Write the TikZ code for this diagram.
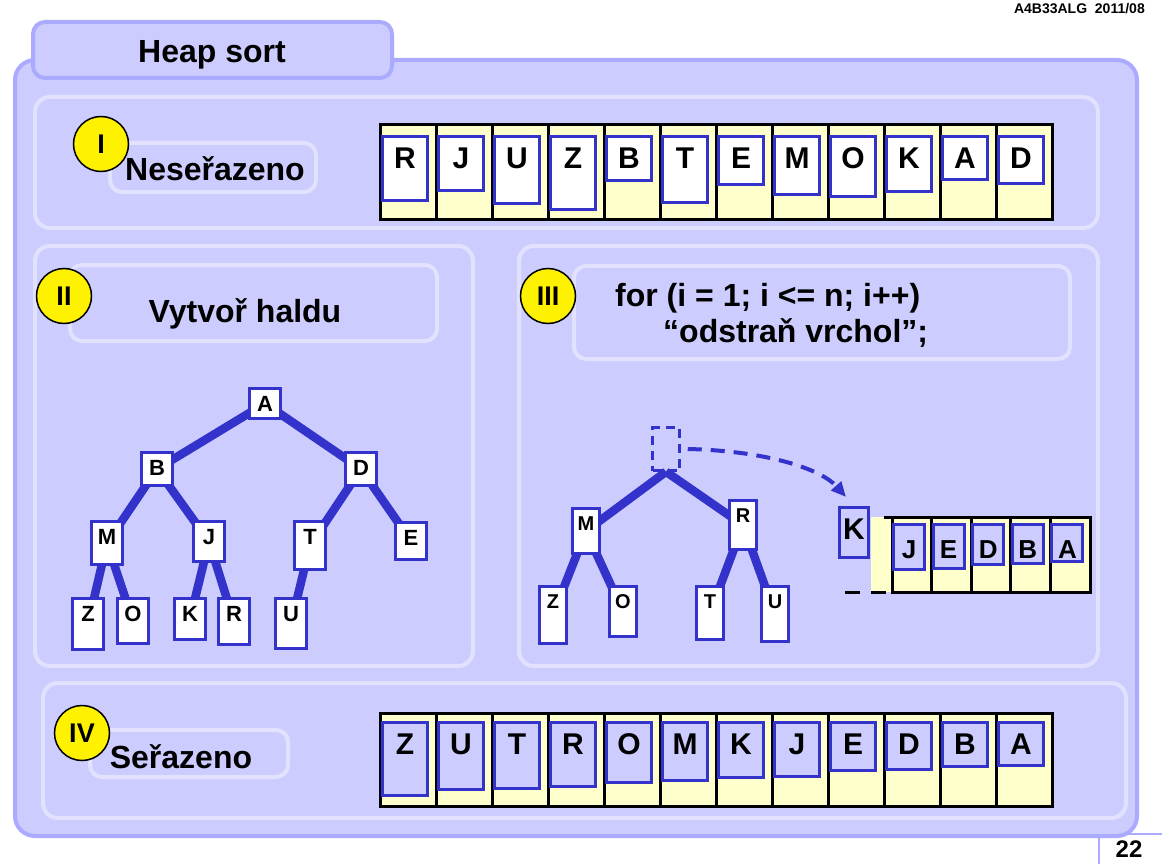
\documentclass[tikz,border=0pt]{standalone}
\usepackage{fontspec}
\setmainfont{Liberation Sans}
\usepackage{tikz}
\usetikzlibrary{arrows.meta}

\definecolor{lav}{RGB}{204,204,255}
\definecolor{panelline}{RGB}{170,170,255}
\definecolor{paleline}{RGB}{226,226,255}
\definecolor{boxblue}{RGB}{51,51,204}
\definecolor{cellyellow}{RGB}{255,255,204}

\pgfdeclarelayer{panels}
\pgfdeclarelayer{links}
\pgfsetlayers{panels,links,main}

\tikzset{
    panel/.style={draw=panelline, line width=4pt, fill=lav, rounded corners=20pt},
    subpanel/.style={draw=paleline, line width=4pt, fill=lav, rounded corners=15pt},
    caption/.style={draw=paleline, line width=4pt, fill=lav, rounded corners=12pt},
    numeral/.style={circle, draw=black, line width=1.5pt, fill=yellow, minimum size=55pt, inner sep=0pt, font=\fontsize{27}{30}\selectfont\bfseries},
    heading/.style={font=\fontsize{32}{36}\selectfont\bfseries, inner sep=0pt},
    cell/.style={draw=black, line width=3pt, fill=cellyellow},
    card/.style={draw=boxblue, line width=3pt, anchor=north, inner sep=2pt, minimum width=45pt, text height=29.5pt, font=\fontsize{30}{30}\selectfont\bfseries},
    smallcard/.style={card, fill=lav, minimum width=31pt, text height=31.6pt, font=\fontsize{26}{26}\selectfont\bfseries},
    treebox/.style={draw=boxblue, line width=3pt, fill=white, anchor=north, inner sep=2pt, minimum width=31pt, text height=21pt, font=\fontsize{22}{22}\selectfont\bfseries},
    link/.style={draw=boxblue, line width=8.5pt}
}

\begin{document}
\begin{tikzpicture}[x=1pt, y=-1pt, >=Stealth]
    \useasboundingbox (0,0) rectangle (1162,864);

    % frames
    \begin{pgfonlayer}{panels}
        \draw[draw=panelline, line width=2pt, fill=white] (1099,834) rectangle (1175,875);
        \draw[panel] (15,60) rectangle (1137,836);
        \draw[panel, rounded corners=12pt] (33,22) rectangle (392,78);
        \draw[subpanel] (35,97) rectangle (1098,228);
        \draw[subpanel] (35,246) rectangle (473,666);
        \draw[subpanel] (519,246) rectangle (1098,666);
        \draw[subpanel] (43,683) rectangle (1126,818);
    \end{pgfonlayer}

    \node[font=\fontsize{14}{16}\selectfont\bfseries, anchor=base east, inner sep=0pt] (course) at (1145,14) {A4B33ALG\ \ 2011/08};
    \node[font=\fontsize{24}{28}\selectfont\bfseries, anchor=base, inner sep=0pt] (pageno) at (1129,857) {22};
    \node[heading, anchor=base] (title) at (212,63) {Heap sort};

    % captions
    \draw[caption] (110,143) rectangle (316,192);
    \draw[caption] (70,265) rectangle (437,341);
    \draw[caption] (574,266) rectangle (1070,359);
    \draw[caption] (90,730) rectangle (288,777);

    \node[numeral] (numI) at (101,144) {I};
    \node[numeral] (numII) at (64,296) {II};
    \node[numeral] (numIII) at (548,296) {III};
    \node[numeral] (numIV) at (82,733) {IV};

    \node[heading, anchor=base] (unsorted) at (215,180) {Neseřazeno};
    \node[heading, anchor=base] (build) at (245,322) {Vytvoř haldu};
    \node[heading, anchor=base west] (loop) at (615,306) {for (i = 1; i <= n; i++)};
    \node[heading, anchor=base west] (remove) at (663,342) {“odstraň vrchol”;};
    \node[heading, anchor=base] (sorted) at (181,768) {Seřazeno};

    % I: input array
    \foreach \ch/\r [count=\i from 0] in {R/18,J/10,U/21,Z/26,B/2,T/20,E/5,M/13,O/15,K/11,A/1,D/4}{
        \pgfmathsetmacro\cx{380+56*\i}
        \pgfmathsetmacro\dep{42+1.2*\r-33.5}
        \draw[cell] (\cx,125) rectangle ++(56,94);
        \node[card, fill=white, text depth=\dep pt] (in\ch) at (\cx+25,135) {\ch};
    }

    % IV: sorted array
    \foreach \ch/\r [count=\i from 0] in {Z/26,U/21,T/20,R/18,O/15,M/13,K/11,J/10,E/5,D/4,B/2,A/1}{
        \pgfmathsetmacro\cx{380+56*\i}
        \pgfmathsetmacro\dep{42+1.2*\r-33.5}
        \draw[cell] (\cx,713) rectangle ++(56,93);
        \node[card, fill=lav, text depth=\dep pt] (out\ch) at (\cx+25,721) {\ch};
    }

    % II: heap
    \foreach \n/\x/\y/\h in {A/265/387/30, B/157/451/33, D/361/451/33, M/107/520/43, J/209/520/40,
        T/310/520/48, E/411/521/37, Z/88/597/51, O/133/597/45, K/190/597/41, R/234/597/46, U/291/597/50}{
        \pgfmathsetmacro\dep{\h-25}
        \node[treebox, text depth=\dep pt] (h\n) at (\x,\y) {\n};
    }

    % III: heap after removing the top
    \node[draw=boxblue, line width=2.5pt, dash pattern=on 9pt off 6pt, minimum width=27pt, minimum height=43pt, inner sep=0pt] (rtop) at (666,449) {};
    \foreach \n/\x/\y/\h in {M/586/507/45, R/743/499/49, Z/553/585/57, O/623/585/50, T/710/585/53, U/775/585/55}{
        \pgfmathsetmacro\dep{\h-24}
        \node[treebox, minimum width=27pt, text height=20pt, text depth=\dep pt, font=\fontsize{20}{20}\selectfont\bfseries] (r\n) at (\x,\y) {\n};
    }
    \node[card, fill=lav, minimum width=29pt, text depth=16.5pt] (kout) at (854,506) {K};

    \fill[cellyellow] (871,517) rectangle (892,592);
    \foreach \ch/\h [count=\i from 0] in {J/45,E/44,D/40,B/39,A/37}{
        \pgfmathsetmacro\cx{892+39.6*\i}
        \pgfmathsetmacro\dep{\h-35.6}
        \draw[cell] (\cx,517) rectangle ++(39.6,75);
        \node[smallcard, text depth=\dep pt] (done\ch) at (\cx+17,523) {\ch};
    }
    \draw[line width=3pt] (884,517) -- (892,517);
    \draw[line width=3pt, dash pattern=on 15pt off 11pt] (845,592) -- (892,592);

    \draw[boxblue, line width=4pt, dash pattern=on 14pt off 9pt, -{Triangle[length=15pt, width=13pt]}]
        ([xshift=7pt]rtop.east) .. controls (770,451) and (822,470) .. ([shift={(8,-9)}]kout.north west);

    % tree edges
    \begin{pgfonlayer}{links}
        \foreach \a/\b in {hA/hB, hA/hD, hB/hM, hB/hJ, hD/hT, hD/hE, hM/hZ, hM/hO, hJ/hK, hJ/hR, hT/hU, rM/rZ, rM/rO, rR/rT, rR/rU}
            \draw[link] (\a.center) -- (\b.center);
        \draw[link] (rtop.south) -- (rM.center);
        \draw[link] (rtop.south) -- (rR.center);
    \end{pgfonlayer}
\end{tikzpicture}
\end{document}
